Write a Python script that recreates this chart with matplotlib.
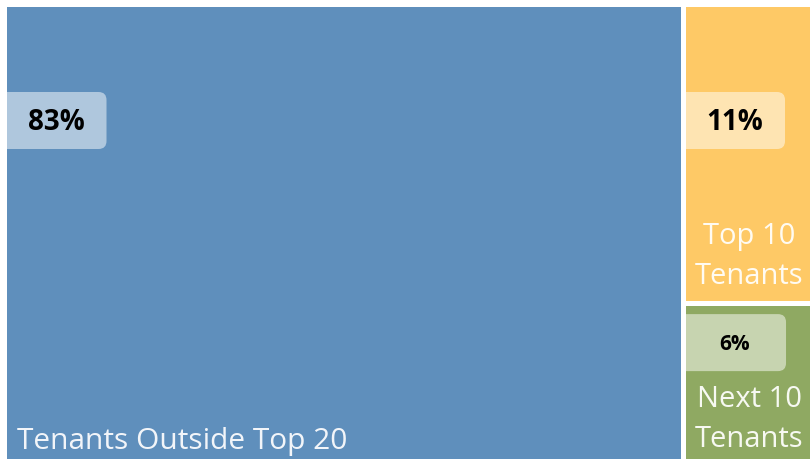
import matplotlib
matplotlib.use("Agg")
import matplotlib.pyplot as plt
from matplotlib.patches import Rectangle, FancyBboxPatch

# tenant groups and their share of rent
categorias = ["Tenants Outside Top 20", "Top 10\nTenants", "Next 10\nTenants"]
valores = [83, 11, 6]
etiquetas = ["83%", "11%", "6%"]
colores = ["#5F8FBC", "#FEC966", "#8FA962"]
tam_pct = [20, 20, 15]

W, H = 810, 459
fig = plt.figure(figsize=(W / 100, H / 100), dpi=100)
ax = fig.add_axes([0, 0, 1, 1])
ax.set_xlim(0, W)
ax.set_ylim(H, 0)
ax.axis("off")

# area del treemap (se sale un poco por la derecha y por abajo)
gap = 2.5
x0, y0, x1, y1 = 7 - gap, 7 - gap, 822, 466
total = sum(valores)

# la primera categoria ocupa una columna entera, el resto se apila a la derecha
ancho0 = (x1 - x0) * valores[0] / total
resto = sum(valores[1:])
rects = [(x0, y0, ancho0, y1 - y0)]
yy = y0
for v in valores[1:]:
    h = (y1 - y0) * v / resto
    rects.append((x0 + ancho0, yy, x1 - x0 - ancho0, h))
    yy += h

for i, (rx, ry, rw, rh) in enumerate(rects):
    # pintar el rectangulo con un pequeño hueco blanco
    tile = Rectangle((rx + gap, ry + gap), rw - 2 * gap, rh - 2 * gap,
                     facecolor=colores[i], edgecolor="none")
    ax.add_patch(tile)

    # caja del porcentaje
    if i == 2:
        by, bh, bw = ry + 11, 57, 103
    else:
        by, bh, bw = 92, 57, 102
    caja = FancyBboxPatch((rx - 10, by), bw + 10, bh,
                          boxstyle="round,pad=0,rounding_size=8",
                          facecolor="white", alpha=0.5, edgecolor="none")
    ax.add_patch(caja)
    caja.set_clip_path(tile)
    ax.text(rx + gap + bw / 2 - 2, by + bh / 2 + 2, etiquetas[i], fontsize=tam_pct[i],
            fontweight="bold", family="Open Sans", color="black",
            ha="center", va="center")

# nombres de las categorias
ax.text(17, 449, categorias[0], fontsize=21.5, family="Open Sans",
        color="#F2F5F9", ha="left", va="baseline")
for i, color in ((1, "#FFFBF2"), (2, "#F7F9F2")):
    rx, ry, rw, rh = rects[i]
    base = ry + rh - 19
    lineas = categorias[i].split("\n")
    ax.text(rx + 66, base - 40, lineas[0], fontsize=21, family="Open Sans",
            color=color, ha="center", va="baseline")
    ax.text(rx + 66, base, lineas[1], fontsize=21, family="Open Sans",
            color=color, ha="center", va="baseline")

fig.savefig("out.png", dpi=100)
